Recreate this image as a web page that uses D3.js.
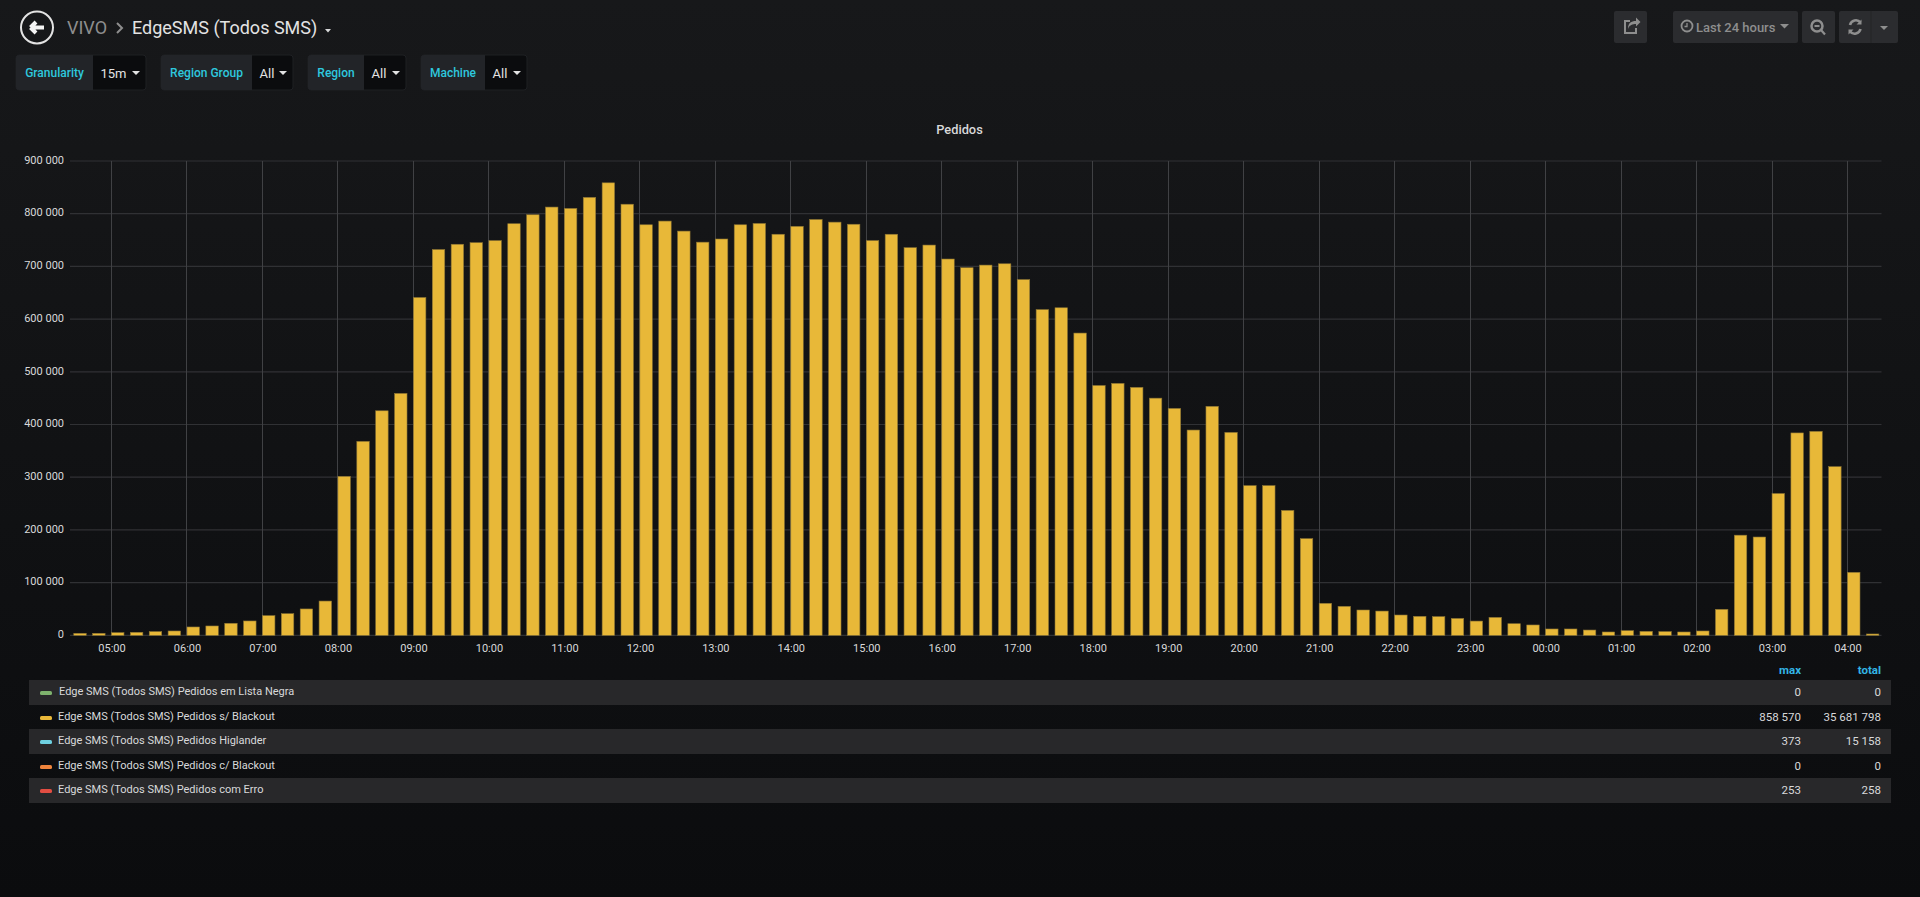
<!DOCTYPE html>
<html>
<head>
<meta charset="utf-8">
<title>EdgeSMS (Todos SMS)</title>
<script src="https://cdn.jsdelivr.net/npm/d3@7"></script>
<style>
  html, body { margin: 0; padding: 0; width: 100%; height: 100%; overflow: hidden; background: #0b0c0e; }
  svg { display: block; font-family: Roboto, sans-serif; }
</style>
</head>
<body>
<div id="app"></div>
<script>
const width = 1920, height = 897;

// Pedidos s/ Blackout, one value every 15 min from 04:30 to 04:15 next day
const pedidos = [
  3800, 3800, 5000, 5700, 7000, 8200,
  15800, 17700, 22800, 27200, 37300, 41000, 50000, 65000,
  301600, 368000, 426000, 459000, 641000, 732000, 742000, 745000,
  749000, 781000, 798000, 812600, 810000, 831000, 858570, 818000,
  779000, 786000, 767000, 746000, 752000, 779000, 781500, 761000,
  776000, 789000, 784000, 780000, 749000, 761000, 735500, 740500,
  714000, 697500, 702500, 705000, 675000, 618000, 621500, 573500,
  474000, 478000, 470500, 450000, 430500, 389500, 434500, 385000,
  284000, 284000, 237000, 183400, 60700, 55000, 48000, 46000,
  38500, 36000, 35400, 32000, 27000, 34000, 22000, 19600,
  12000, 12000, 10000, 6300, 8800, 7500, 7000, 6300,
  8200, 49300, 190000, 186500, 269000, 384000, 387000, 320000,
  119500, 2500
];
const yTicks = [0, 100000, 200000, 300000, 400000, 500000, 600000, 700000, 800000, 900000];

const legendNames = [
  'Edge SMS (Todos SMS) Pedidos em Lista Negra',
  'Edge SMS (Todos SMS) Pedidos s/ Blackout',
  'Edge SMS (Todos SMS) Pedidos Higlander',
  'Edge SMS (Todos SMS) Pedidos c/ Blackout',
  'Edge SMS (Todos SMS) Pedidos com Erro'
];
const legendColors = ['#7eb26d', '#eab839', '#6ed0e0', '#ef843c', '#e24d42'];
const legendMax = ['0', '858 570', '373', '0', '253'];
const legendTotal = ['0', '35 681 798', '15 158', '0', '258'];

const variables = ['Granularity', 'Region Group', 'Region', 'Machine'];
const variableValues = ['15m', 'All', 'All', 'All'];
const variableBoxes = [[16, 93, 146], [161, 252, 293], [308, 364, 406], [421, 485, 527]];

const t0 = new Date(2018, 0, 1, 4, 30);
const step = 15 * 60 * 1000;
const times = pedidos.map((d, i) => new Date(+t0 + i * step));

const svg = d3.select('#app').append('svg')
  .attr('width', width).attr('height', height).attr('viewBox', `0 0 ${width} ${height}`);

const defs = svg.append('defs');
const grad = defs.append('linearGradient').attr('id', 'bg').attr('x1', 0).attr('x2', 0).attr('y1', 0).attr('y2', 1);
grad.append('stop').attr('offset', '0%').attr('stop-color', '#17181a');
grad.append('stop').attr('offset', '100%').attr('stop-color', '#0b0c0e');
svg.append('rect').attr('width', width).attr('height', height).attr('fill', 'url(#bg)');

// --- header
const nav = svg.append('g');
nav.append('circle').attr('cx', 37).attr('cy', 27.5).attr('r', 16).attr('fill', 'none').attr('stroke', '#e3e3e3').attr('stroke-width', 2);
nav.append('path').attr('d', 'M30.5 27.5 L36 22 M30.5 27.5 L36 33 M31 27.5 L44 27.5')
  .attr('fill', 'none').attr('stroke', '#f4f4f4').attr('stroke-width', 4);
nav.append('text').attr('x', 67).attr('y', 33.5).attr('font-size', 18).attr('fill', '#8e8e8e').text('VIVO');
nav.append('path').attr('d', 'M117 23 L122 28 L117 33').attr('fill', 'none').attr('stroke', '#8e8e8e').attr('stroke-width', 2);
nav.append('text').attr('x', 132).attr('y', 33.5).attr('font-size', 18).attr('fill', '#e3e3e3').text('EdgeSMS (Todos SMS)');
nav.append('path').attr('d', 'M325 29 h6 l-3 3.5 z').attr('fill', '#d8d9da');

const varG = svg.selectAll('g.var').data(variables).join('g').attr('class', 'var');
varG.append('rect').attr('x', (d, i) => variableBoxes[i][0]).attr('y', 55)
  .attr('width', (d, i) => variableBoxes[i][2] - variableBoxes[i][0]).attr('height', 35)
  .attr('rx', 3).attr('fill', '#0b0c0e').attr('stroke', '#1e2023');
varG.append('path')
  .attr('d', (d, i) => `M${variableBoxes[i][1]} 55 H${variableBoxes[i][0] + 3} a3 3 0 0 0 -3 3 V87 a3 3 0 0 0 3 3 H${variableBoxes[i][1]} Z`)
  .attr('fill', '#222428');
varG.append('text').attr('x', (d, i) => (variableBoxes[i][0] + variableBoxes[i][1]) / 2).attr('y', 77)
  .attr('text-anchor', 'middle').attr('font-size', 12).attr('font-weight', 500).attr('fill', '#2ec8de').text(d => d);
varG.append('text').attr('x', (d, i) => variableBoxes[i][1] + 7.5).attr('y', 77.5)
  .attr('font-size', 13).attr('fill', '#e3e3e3').text((d, i) => variableValues[i]);
varG.append('path')
  .attr('d', (d, i) => `M${variableBoxes[i][2] - 14} 71 h8 l-4 4 z`).attr('fill', '#e3e3e3');

// --- toolbar
const btn = svg.append('g').attr('fill', '#2b2c2f');
[[1614, 33], [1673, 125], [1802, 33], [1839, 59]].forEach(b => {
  btn.append('rect').attr('x', b[0]).attr('y', 11).attr('width', b[1]).attr('height', 32).attr('rx', 2);
});
const ic = svg.append('g').attr('fill', 'none').attr('stroke', '#8e8e8e').attr('stroke-width', 2);
ic.append('path').attr('d', 'M1636 28 v5 h-11 v-12 h5');
ic.append('path').attr('d', 'M1628 29 c0 -6 3 -8 8 -8 v-3.5 l4.5 4.5 l-4.5 4.5 v-2.5 c-3 0 -7 1 -8 5 z').attr('fill', '#8e8e8e').attr('stroke', 'none');
ic.append('circle').attr('cx', 1687).attr('cy', 26).attr('r', 5.5).attr('stroke-width', 1.8);
ic.append('path').attr('d', 'M1687 23 v3.5 h-2.5').attr('stroke-width', 1.3);
svg.append('text').attr('x', 1696).attr('y', 31.5).attr('font-size', 13).attr('font-weight', 500).attr('fill', '#8e8e8e').text('Last 24 hours');
svg.append('path').attr('d', 'M1780 24 h9 l-4.5 4.5 z').attr('fill', '#8e8e8e');
ic.append('circle').attr('cx', 1817).attr('cy', 26).attr('r', 5.5).attr('stroke-width', 2.5);
ic.append('path').attr('d', 'M1814.5 26 h5 M1821 30 l4 4.5').attr('stroke-width', 2.2);
ic.append('path').attr('d', 'M1850 25 a6 6 0 0 1 10.5 -2.5 M1860.5 29 a6 6 0 0 1 -10.5 2.5').attr('stroke-width', 2.6);
ic.append('path').attr('d', 'M1861.5 19.5 v5 h-5 z M1848.5 34.5 v-5 h5 z').attr('fill', '#8e8e8e').attr('stroke', 'none');
svg.append('path').attr('d', 'M1880 26 h8 l-4 4 z').attr('fill', '#8e8e8e');
svg.append('line').attr('x1', 1871).attr('x2', 1871).attr('y1', 11).attr('y2', 43).attr('stroke', '#242527');

// --- chart
const marginLeft = 70, plotRight = 1881.5;
const x = d3.scaleTime()
  .domain([new Date(2018, 0, 1, 4, 27), new Date(2018, 0, 2, 4, 27)])
  .range([marginLeft, plotRight]);
const y = d3.scaleLinear().domain([0, 900000]).range([635.3, 161]);

svg.append('text').attr('x', 959.5).attr('y', 133.5).attr('text-anchor', 'middle')
  .attr('font-size', 12.8).attr('font-weight', 500).attr('fill', '#d8d9da').text('Pedidos');

const tick = d3.format(',');
const fmt = v => tick(v).replace(/,/g, ' ');

const yAxis = svg.append('g').attr('transform', `translate(${marginLeft},0)`)
  .call(d3.axisLeft(y).tickValues(yTicks).tickSize(0).tickPadding(6).tickFormat(fmt));
yAxis.select('.domain').remove();
yAxis.selectAll('text').attr('fill', '#d8d9da').attr('font-size', 11).attr('font-family', 'Roboto, sans-serif').attr('y', -1.3);

const hours = d3.timeHour.range(new Date(2018, 0, 1, 5), new Date(2018, 0, 2, 5));
const xAxis = svg.append('g').attr('transform', `translate(0,${y(0)})`)
  .call(d3.axisBottom(x).tickValues(hours).tickSize(0).tickPadding(9).tickFormat(d3.timeFormat('%H:%M')));
xAxis.select('.domain').remove();
xAxis.selectAll('text').attr('fill', '#d8d9da').attr('font-size', 11).attr('font-family', 'Roboto, sans-serif');

svg.append('g').selectAll('line').data(yTicks).join('line')
  .attr('x1', marginLeft).attr('x2', plotRight)
  .attr('y1', d => y(d)).attr('y2', d => y(d))
  .attr('stroke', '#303134').attr('stroke-width', 1.2);
svg.append('g').selectAll('line').data(hours).join('line')
  .attr('x1', d => Math.floor(x(d)) + 0.5).attr('x2', d => Math.floor(x(d)) + 0.5)
  .attr('y1', y(900000)).attr('y2', y(0))
  .attr('stroke', '#404144').attr('stroke-width', 1);

const barW = x(new Date(+t0 + step * 0.66)) - x(t0);
svg.append('g').selectAll('rect').data(pedidos).join('rect')
  .attr('x', (d, i) => x(times[i]))
  .attr('y', d => y(d))
  .attr('width', barW)
  .attr('height', d => y(0) - y(d))
  .attr('fill', '#e8b838')
  .attr('stroke', '#8a7334')
  .attr('stroke-width', 0.6);

// --- legend
const rowTops = [680, 705, 729, 754, 778];
const rowHeights = [25, 24, 25, 24, 25];
svg.append('text').attr('x', 1801).attr('y', 674).attr('text-anchor', 'end').attr('font-size', 11.5).attr('font-weight', 700).attr('fill', '#33b5e5').text('max');
svg.append('text').attr('x', 1881).attr('y', 674).attr('text-anchor', 'end').attr('font-size', 11.5).attr('font-weight', 700).attr('fill', '#33b5e5').text('total');
const rows = svg.selectAll('g.row').data(legendNames).join('g').attr('class', 'row');
rows.append('rect').attr('x', 29).attr('width', 1862)
  .attr('y', (d, i) => rowTops[i]).attr('height', (d, i) => rowHeights[i])
  .attr('fill', (d, i) => i % 2 ? 'none' : '#28282a');
rows.append('rect').attr('x', 40).attr('width', 12).attr('height', 4).attr('rx', 1.5)
  .attr('y', (d, i) => rowTops[i] + 11).attr('fill', (d, i) => legendColors[i]);
rows.append('text').attr('x', (d, i) => i === 0 ? 59 : 58).attr('y', (d, i) => rowTops[i] + 15)
  .attr('font-size', 11).attr('fill', '#d8d9da').text(d => d);
rows.append('text').attr('x', 1801).attr('y', (d, i) => rowTops[i] + 16).attr('text-anchor', 'end')
  .attr('font-size', 11.5).attr('fill', '#d8d9da').text((d, i) => legendMax[i]);
rows.append('text').attr('x', 1881).attr('y', (d, i) => rowTops[i] + 16).attr('text-anchor', 'end')
  .attr('font-size', 11.5).attr('fill', '#d8d9da').text((d, i) => legendTotal[i]);
</script>
</body>
</html>
